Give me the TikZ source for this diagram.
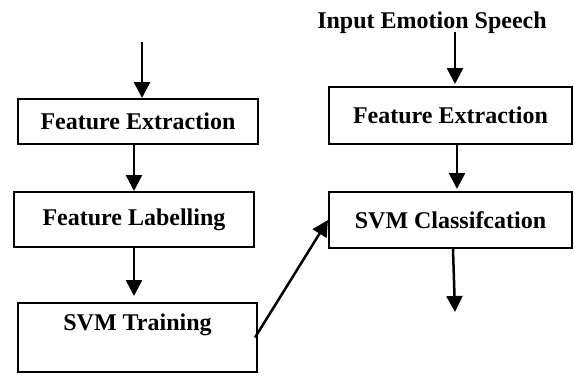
\documentclass[tikz,border=0pt]{standalone}
\usepackage{fontspec}
\setmainfont{Liberation Serif}
\usetikzlibrary{arrows.meta}

\begin{document}
\begin{tikzpicture}[x=1pt,y=-1pt,
    box/.style={draw, line width=2pt, inner sep=0pt, font=\fontsize{24}{28}\selectfont\bfseries},
    arr/.style={line width=2.5pt, -{Triangle[width=16pt,length=16pt]}}]

\useasboundingbox (0,0) rectangle (574,381);

% training side
\node[box, minimum width=240pt, minimum height=45pt] (fe1) at (138,121.5) {Feature Extraction};
\node[box, minimum width=240pt, minimum height=55pt] (fl) at (134,219.5) {Feature Labelling};
\node[box, minimum width=239pt, text height=27pt, text depth=42pt] (svmt) at (137.5,337.5) {SVM Training};

% testing side
\node[font=\fontsize{24}{28}\selectfont\bfseries, anchor=base] (inp) at (432,28) {Input Emotion Speech};
\node[box, minimum width=243pt, minimum height=57pt] (fe2) at (450.5,115.5) {Feature Extraction};
\node[box, minimum width=243pt, minimum height=56pt] (svmc) at (450.5,220) {SVM Classifcation};

\coordinate (in1) at (142,42);
\coordinate (in2) at (455,32);
\coordinate (out) at (455,312);

\draw[arr] (in1) -- (in1 |- fe1.north);
\draw[arr] (fl.north |- fe1.south) -- (fl.north);
\draw[arr, shorten >=6pt] (fl.south) -- (fl.south |- svmt.north);
\draw[arr] ([xshift=-3pt]svmt.east) -- (svmc.west);

\draw[arr, shorten >=2pt] (in2) -- (in2 |- fe2.north);
\draw[arr, shorten >=2pt] ([xshift=6.5pt]fe2.south) -- ([xshift=6.5pt]svmc.north);
\draw[arr] ([xshift=2.5pt]svmc.south) -- (out);

\end{tikzpicture}
\end{document}
